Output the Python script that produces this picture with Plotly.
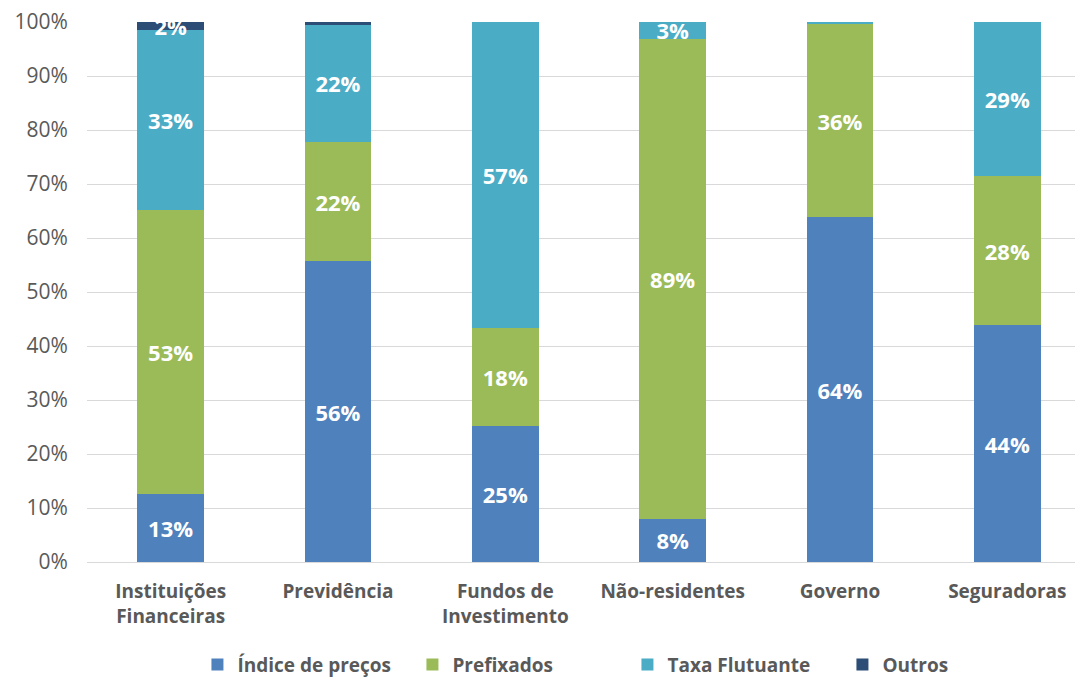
import plotly.graph_objects as go

categories = ["Instituições<br>Financeiras", "Previdência", "Fundos de<br>Investimento",
              "Não-residentes", "Governo", "Seguradoras"]
indice = [12.6, 55.7, 25.1, 8.0, 63.8, 43.8]
prefixados = [52.6, 22.1, 18.2, 88.9, 35.9, 27.6]
taxa = [33.3, 21.7, 56.7, 3.1, 0.3, 28.6]
outros = [1.5, 0.5, 0.0, 0.0, 0.0, 0.0]

series = [
    ("Índice de preços", indice, "#4F81BD"),
    ("Prefixados", prefixados, "#9BBB59"),
    ("Taxa Flutuante", taxa, "#4BACC6"),
    ("Outros", outros, "#2C4D75"),
]

FONT = "'Open Sans', Lato, sans-serif"

fig = go.Figure()
for name, vals, color in series:
    text = [f"{v:.0f}%" if v >= 1.5 else "" for v in vals]
    fig.add_trace(go.Bar(
        x=categories, y=vals, name=name,
        marker=dict(color=color, line=dict(width=0)),
        text=text, textposition="inside", insidetextanchor="middle",
        textangle=0, constraintext="none",
        textfont=dict(family=FONT, size=22, color="white", weight="bold"),
        width=0.40, hoverinfo="skip",
    ))

fig.update_layout(
    barmode="stack",
    width=1083, height=681,
    margin=dict(l=79, r=0, t=14, b=127),
    plot_bgcolor="white", paper_bgcolor="white",
    font=dict(family=FONT, color="#595959"),
    uniformtext=dict(mode=False),
    legend=dict(orientation="h", x=0.11, xanchor="left", y=-0.19, yanchor="middle",
                font=dict(family=FONT, size=19, color="#595959", weight="bold"),
                itemwidth=30, entrywidth=170, entrywidthmode="pixels",
                traceorder="normal", tracegroupgap=0),
    showlegend=True,
)
fig.update_xaxes(range=[-0.5, 5.5], automargin=False,
                 tickfont=dict(family=FONT, size=19, color="#595959", weight="bold"),
                 showline=True, linecolor="#D9D9D9", linewidth=1,
                 ticks="outside", ticklen=12, tickcolor="rgba(0,0,0,0)", showgrid=False)
fig.update_yaxes(range=[0, 100], dtick=10, ticksuffix="%", automargin=False,
                 ticklabeloverflow="allow",
                 showgrid=True, gridcolor="#D9D9D9", gridwidth=1, zeroline=False,
                 tickfont=dict(family=FONT, size=21, color="#595959"),
                 ticks="outside", ticklen=14, tickcolor="rgba(0,0,0,0)")

fig.write_html("out.html")
